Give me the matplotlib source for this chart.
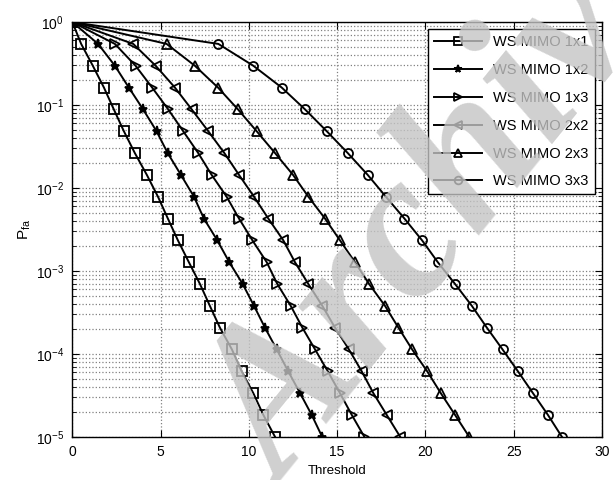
import matplotlib
matplotlib.use('Agg')
import matplotlib.pyplot as plt
from matplotlib.ticker import LogLocator, NullFormatter

plt.rcParams['font.family'] = ['Liberation Sans', 'DejaVu Sans']
plt.rcParams['mathtext.default'] = 'regular'

# false alarm probability levels shared by all curves
pfa = [1.0, 0.5456, 0.2976, 0.1624, 0.0886, 0.04833, 0.02637, 0.01438,
       0.007848, 0.004281, 0.002336, 0.001274, 0.000695, 0.0003793,
       0.0002069, 0.0001129, 6.158e-05, 3.36e-05, 1.833e-05, 1e-05]

# thresholds for each configuration
thr_1x1 = [0, 0.5, 1.16, 1.79, 2.35, 2.92, 3.54, 4.22, 4.85, 5.41,
           5.98, 6.60, 7.23, 7.79, 8.36, 9.04, 9.59, 10.25, 10.82, 11.48]
thr_1x2 = [0, 1.46, 2.41, 3.20, 4.01, 4.77, 5.40, 6.15, 6.89, 7.45,
           8.21, 8.89, 9.65, 10.29, 10.91, 11.58, 12.23, 12.90, 13.56, 14.15]
thr_1x3 = [0, 2.41, 3.58, 4.52, 5.43, 6.28, 7.13, 7.89, 8.74, 9.44,
           10.20, 11.01, 11.61, 12.37, 13.03, 13.75, 14.47, 15.16, 15.83, 16.54]
thr_2x2 = [0, 3.45, 4.72, 5.81, 6.76, 7.70, 8.61, 9.44, 10.29, 11.10,
           11.95, 12.61, 13.37, 14.16, 14.88, 15.67, 16.39, 17.05, 17.81, 18.57]
thr_2x3 = [0, 5.34, 6.94, 8.25, 9.38, 10.44, 11.48, 12.50, 13.37, 14.31,
           15.16, 16.01, 16.81, 17.71, 18.47, 19.25, 20.10, 20.87, 21.68, 22.48]
thr_3x3 = [0, 8.27, 10.25, 11.86, 13.18, 14.41, 15.60, 16.73, 17.76, 18.81,
           19.81, 20.70, 21.68, 22.63, 23.48, 24.37, 25.24, 26.09, 26.94, 27.73]

labels = ['WS MIMO 1x1', 'WS MIMO 1x2', 'WS MIMO 1x3',
          'WS MIMO 2x2', 'WS MIMO 2x3', 'WS MIMO 3x3']
markers = ['s', '*', '>', '<', '^', 'o']
curves = [thr_1x1, thr_1x2, thr_1x3, thr_2x2, thr_2x3, thr_3x3]

fig = plt.figure(figsize=(6.13, 4.8), dpi=100)
ax = fig.add_axes([0.118, 0.090, 0.864, 0.864])

for thr, mk, lab in zip(curves, markers, labels):
    star = mk == '*'
    ax.semilogy(thr, pfa, color='black', linewidth=1.4, marker=mk,
                markersize=6.5, markerfacecolor='black' if star else 'none',
                markeredgecolor='black', markeredgewidth=1.3, label=lab)

ax.set_xlim(0, 30)
ax.set_ylim(1e-5, 1)
ax.set_xticks([0, 5, 10, 15, 20, 25, 30])
ax.yaxis.set_major_locator(LogLocator(base=10, numticks=10))
ax.yaxis.set_minor_locator(LogLocator(base=10, subs=range(2, 10), numticks=10))
ax.yaxis.set_minor_formatter(NullFormatter())

ax.grid(True, which='major', linestyle=':', color='0.5', linewidth=0.9)
ax.grid(True, which='minor', axis='y', linestyle=':', color='0.5', linewidth=0.9)
ax.tick_params(which='both', direction='in', top=True, right=True, labelsize=10)
ax.tick_params(which='major', length=5, pad=6)
ax.tick_params(which='minor', length=3)
for sp in ax.spines.values():
    sp.set_linewidth(1.0)

ax.set_xlabel('Threshold', fontsize=9.5, labelpad=4)
ax.set_ylabel('P$_{fa}$', fontsize=11, labelpad=2)

leg = ax.legend(loc='upper right', fontsize=10.5, handlelength=3.3,
                fancybox=False, edgecolor='black', framealpha=1,
                borderaxespad=0.5, labelspacing=0.95, markerscale=0.85)
leg.get_frame().set_linewidth(1.0)

# grey watermark over the plot, running off the figure like the source scan
fig.text(0.745, 0.59, 'Archive', fontsize=150, family='Liberation Serif',
         style='italic', weight='bold', color='#c4c4c4', alpha=0.8,
         rotation=51, ha='center', va='center', zorder=10)

fig.savefig('out.png', dpi=100)
